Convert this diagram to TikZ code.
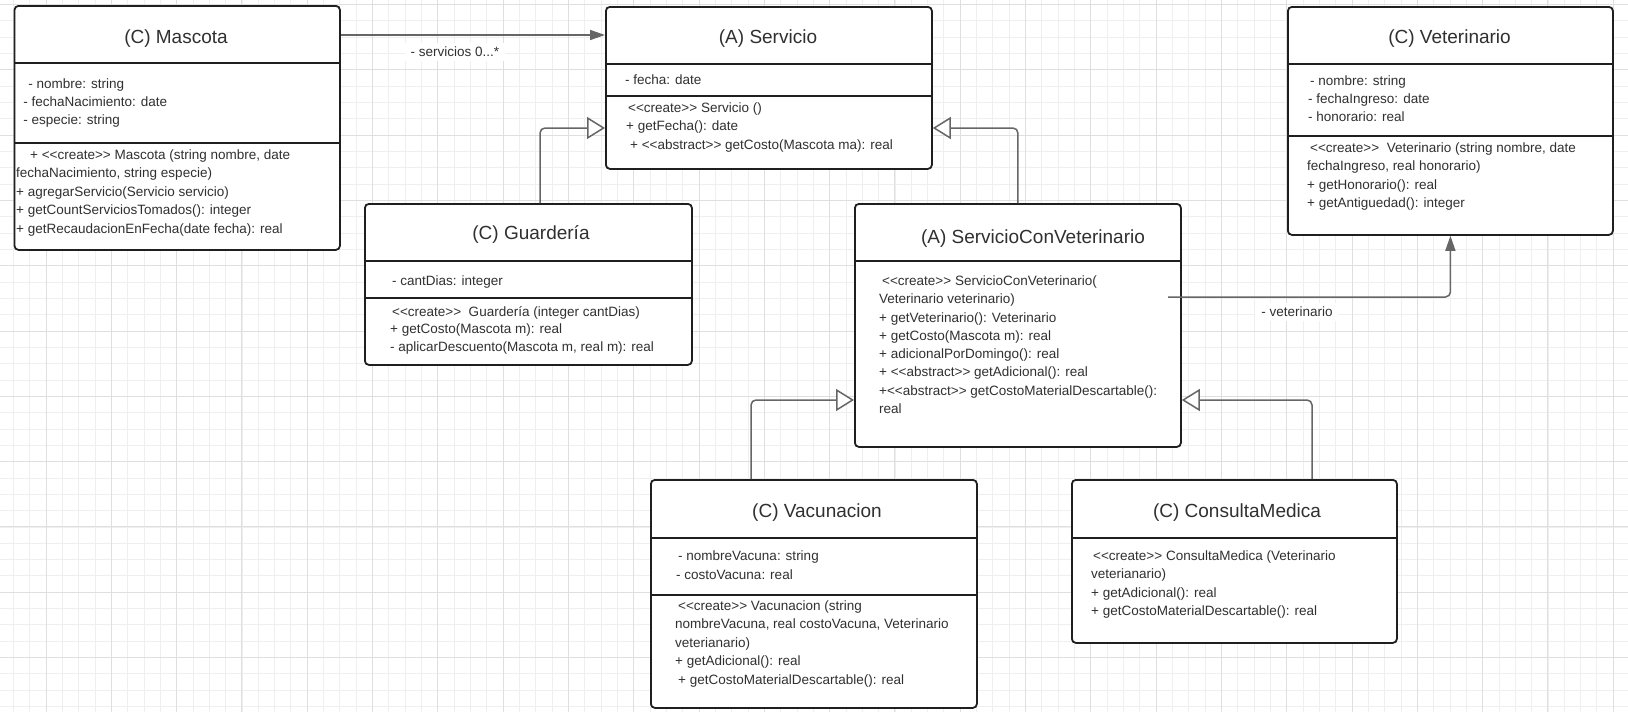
\documentclass[tikz,border=0pt]{standalone}
\usepackage{fontspec}
\setmainfont{Liberation Sans}
\usetikzlibrary{arrows.meta}

\definecolor{ink}{HTML}{1F1F1F}
\definecolor{txt}{HTML}{303030}
\definecolor{wire}{HTML}{666666}
\definecolor{gridminor}{HTML}{EFEFEF}
\definecolor{gridmajor}{HTML}{DFDFDF}

\tikzset{
  classbox/.style={draw=ink, line width=1.8pt, rounded corners=4pt, fill=white,
                   anchor=north west, inner sep=0pt},
  divider/.style={draw=ink, line width=2.4pt},
  title/.style={font=\fontsize{19}{22}\selectfont, text=txt, inner sep=0pt,
                text height=13.6pt, text depth=0pt},
  row/.style={font=\fontsize{13.5}{16}\selectfont, text=txt, anchor=west,
              inner sep=0pt, text height=9.6pt, text depth=2.8pt},
  assoc/.style={draw=wire, line width=1.5pt, rounded corners=5pt,
                -{Triangle[length=15pt,width=10pt]}},
  gen/.style={draw=wire, line width=1.5pt, rounded corners=5pt,
              -{Triangle[length=18pt,width=22pt,fill=white]}},
  rolelabel/.style={font=\fontsize{13.5}{16}\selectfont, text=txt, fill=white,
                    inner xsep=6pt, inner ysep=4pt},
  gridthin/.style={draw=gridminor, line width=0.8pt},
  gridthick/.style={draw=gridmajor, line width=1pt},
}

% one text row per list item: name, x, y of first row, row gap, rows
\newcommand\classrows[5]{%
  \foreach \rowtxt [count=\k] in {#5}
    \node[row] (#1-\k) at (#2,{#3+(\k-1)*#4}) {\rowtxt};}

\begin{document}
\begin{tikzpicture}[x=1pt,y=-1pt]
\useasboundingbox (0,0) rectangle (1628,712);
\fill[white] (0,0) rectangle (1628,712);

% background grid
\foreach \i in {0,...,98} \draw[gridthin] ({13.35+\i*16.325},0) -- ++(0,712);
\foreach \j in {0,...,43} \draw[gridthin] (0,{4.5+\j*16.325}) -- ++(1628,0);
\foreach \i in {0,...,24} \draw[gridthick] ({46+\i*65.3},0) -- ++(0,712);
\foreach \j in {0,...,10} \draw[gridthick] (0,{4.5+\j*65.3}) -- ++(1628,0);

% ---------- Mascota ----------
\node[classbox, minimum width=325.4pt, minimum height=244pt] (masc) at (13.6,5) {};
\draw[divider] (masc.west |- 0,63) -- (masc.east |- 0,63);
\draw[divider] (masc.west |- 0,143) -- (masc.east |- 0,143);
\node[title] (masc-t) at (176,37) {(C) Mascota};
\classrows{masca}{23.2}{85}{18.2}{{\hspace*{5pt}- nombre: string},{- fechaNacimiento: date},{- especie: string}}
\classrows{mascm}{16}{156}{18.5}{{\hspace*{14pt}+ <{}<create>{}> Mascota (string nombre, date},{fechaNacimiento, string especie)},{+ agregarServicio(Servicio servicio)},{+ getCountServiciosTomados(): integer},{+ getRecaudacionEnFecha(date fecha): real}}

% ---------- Servicio ----------
\node[classbox, minimum width=326pt, minimum height=162pt] (serv) at (605,6) {};
\draw[divider] (serv.west |- 0,64) -- (serv.east |- 0,64);
\draw[divider] (serv.west |- 0,96) -- (serv.east |- 0,96);
\node[title] (serv-t) at (768,37) {(A) Servicio};
\classrows{serva}{625}{81}{18}{{- fecha: date}}
\classrows{servm}{626}{109}{18.5}{{\hspace*{2pt}<{}<create>{}> Servicio ()},{+ getFecha(): date},{\hspace*{4pt}+ <{}<abstract>{}> getCosto(Mascota ma): real}}

% ---------- Veterinario ----------
\node[classbox, minimum width=325pt, minimum height=228pt] (vet) at (1287,6) {};
\draw[divider] (vet.west |- 0,64) -- (vet.east |- 0,64);
\draw[divider] (vet.west |- 0,136) -- (vet.east |- 0,136);
\node[title] (vet-t) at (1449.5,37) {(C) Veterinario};
\classrows{veta}{1308}{82}{18}{{\hspace*{2pt}- nombre: string},{- fechaIngreso: date},{- honorario: real}}
\classrows{vetm}{1307}{149}{18.4}{{\hspace*{3pt}<{}<create>{}>\ \ Veterinario (string nombre, date},{fechaIngreso, real honorario)},{+ getHonorario(): real},{+ getAntiguedad(): integer}}

% ---------- Guardería ----------
\node[classbox, minimum width=327pt, minimum height=161pt] (guard) at (364,203) {};
\draw[divider] (guard.west |- 0,261) -- (guard.east |- 0,261);
\draw[divider] (guard.west |- 0,298) -- (guard.east |- 0,298);
\node[title] (guard-t) at (531,233) {(C) Guardería};
\classrows{guarda}{392}{282}{18}{{- cantDias: integer}}
\classrows{guardm}{390}{313}{17.5}{{\hspace*{2pt}<{}<create>{}>\ \ Guardería (integer cantDias)},{+ getCosto(Mascota m): real},{- aplicarDescuento(Mascota m, real m): real}}

% ---------- ServicioConVeterinario ----------
\node[classbox, minimum width=326pt, minimum height=243pt] (scv) at (854,203) {};
\draw[divider] (scv.west |- 0,261) -- (scv.east |- 0,261);
\node[title] (scv-t) at (1033,237) {(A) ServicioConVeterinario};
\classrows{scvm}{879}{282}{18.3}{{\hspace*{3pt}<{}<create>{}> ServicioConVeterinario(},{Veterinario veterinario)},{+ getVeterinario(): Veterinario},{+ getCosto(Mascota m): real},{+ adicionalPorDomingo(): real},{+ <{}<abstract>{}> getAdicional(): real},{+<{}<abstract>{}> getCostoMaterialDescartable():},{real}}

% ---------- Vacunacion ----------
\node[classbox, minimum width=326pt, minimum height=228pt] (vac) at (650,479) {};
\draw[divider] (vac.west |- 0,538) -- (vac.east |- 0,538);
\draw[divider] (vac.west |- 0,595) -- (vac.east |- 0,595);
\node[title] (vac-t) at (817,511) {(C) Vacunacion};
\classrows{vaca}{676}{557}{19}{{\hspace*{2pt}- nombreVacuna: string},{- costoVacuna: real}}
\classrows{vacm}{675}{607}{18.5}{{\hspace*{3pt}<{}<create>{}> Vacunacion (string},{nombreVacuna, real costoVacuna, Veterinario},{veterianario)},{+ getAdicional(): real},{\hspace*{3pt}+ getCostoMaterialDescartable(): real}}

% ---------- ConsultaMedica ----------
\node[classbox, minimum width=325pt, minimum height=163pt] (cm) at (1071,479) {};
\draw[divider] (cm.west |- 0,538) -- (cm.east |- 0,538);
\node[title] (cm-t) at (1237,511) {(C) ConsultaMedica};
\classrows{cmm}{1091}{557}{18.4}{{\hspace*{2pt}<{}<create>{}> ConsultaMedica (Veterinario},{veterianario)},{+ getAdicional(): real},{+ getCostoMaterialDescartable(): real}}

% ---------- relations ----------
\draw[assoc] (masc.east |- 0,35) -- (serv.west |- 0,35);
\node[rolelabel] (servlbl) at (455,52) {- servicios 0...*};

\draw[gen] (guard.north -| 540,0) |- (serv.west |- 0,128);
\draw[gen] (scv.north) |- (serv.east |- 0,128);
\draw[gen] (vac.north -| 751,0) |- (scv.west |- 0,400);
\draw[gen] (cm.north -| 1312,0) |- (scv.east |- 0,400);

\coordinate (vetfrom) at (1168,297);
\draw[assoc] (vetfrom) -| (vet.south);
\node[rolelabel] (vetlbl) at (1297,312) {- veterinario};

\end{tikzpicture}
\end{document}
